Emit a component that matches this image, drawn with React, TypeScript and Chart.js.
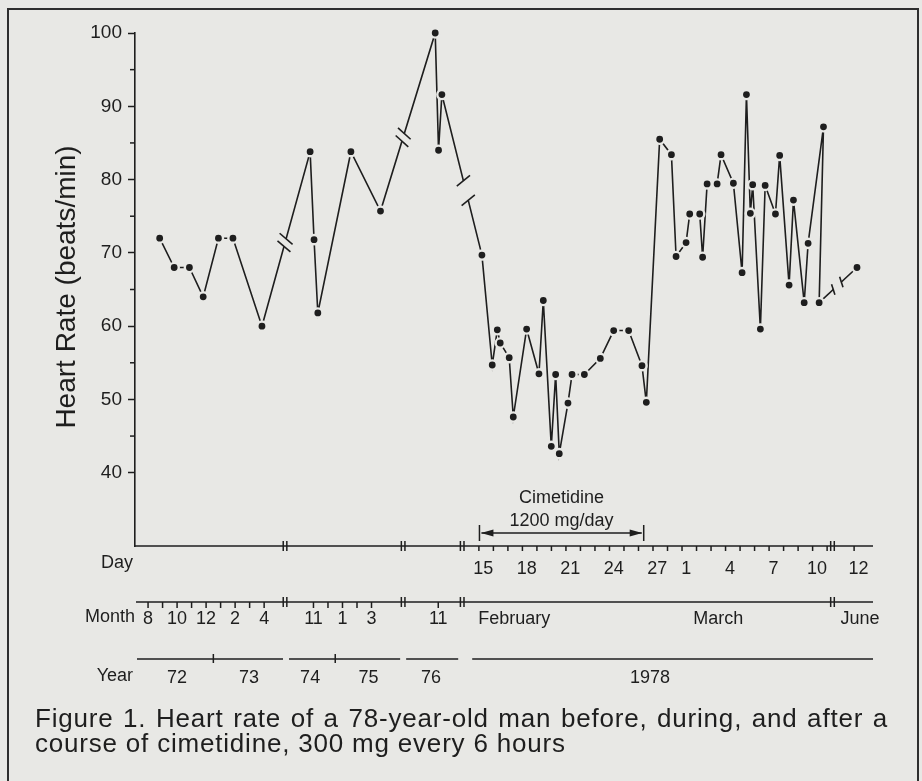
import React, { useEffect, useRef } from 'react';
import { Chart, registerables } from 'chart.js';

Chart.register(...registerables);

// ---------------- data ----------------
// The time axis is broken into five segments. Each point's time is given in its
// segment's own unit: months (1972-73, 1974-75, 1976) or days (1978; Feb 15 = 15, Mar 1 = 29).
const segmentShift = [-7.1, 1.3, 9.9, 9.0, 37.86]; // axis units = local time + shift
const axisBreaks = [10.34, 18.48, 22.55, 48.07]; // axis units where the time axis is broken

const month7273 = [8.8, 9.8, 10.85, 11.8, 12.85, 13.85, 15.85];
const rate7273 = [72, 68, 68, 64, 72, 72, 60];

const month7475 = [10.77, 11.04, 11.3, 13.58, 15.62];
const rate7475 = [83.8, 71.8, 61.8, 83.8, 75.7];

const month76 = [10.79, 11.02, 11.25];
const rate76 = [100, 84, 91.6];

const day78 = [
  14.91, 15.62, 15.97, 16.17, 16.79, 17.07, 17.99, 18.84, 19.14, 19.69,
  19.99, 20.24, 20.84, 21.12, 21.97, 23.07, 23.99, 25.02, 25.94, 26.24,
  27.16, 27.97, 28.29, 28.98, 29.23, 29.92, 30.12, 30.43, 31.12, 31.39,
  32.24, 32.84, 33.14, 33.41, 33.57, 34.1, 34.43, 35.14, 35.43, 36.08,
  36.38, 37.12, 37.39, 38.45, 38.15,
];
const rate78 = [
  69.7, 54.7, 59.5, 57.7, 55.7, 47.6, 59.6, 53.5, 63.5, 43.6,
  53.4, 42.6, 49.5, 53.4, 53.4, 55.6, 59.4, 59.4, 54.6, 49.6,
  85.5, 83.4, 69.5, 71.4, 75.3, 75.3, 69.4, 79.4, 79.4, 83.4,
  79.5, 67.3, 91.6, 75.4, 79.3, 59.6, 79.2, 75.3, 83.3, 65.6,
  77.2, 63.2, 71.3, 87.2, 63.2,
];

const dayJune78 = [11.9];
const rateJune78 = [68];

// axis texts
const yTickValues = [40, 45, 50, 55, 60, 65, 70, 75, 80, 85, 90, 95, 100];
const dayTicks78 = [15, 16, 17, 18, 19, 20, 21, 22, 23, 24, 25, 26, 27, 28, 29, 30, 31, 32, 33, 34, 35, 36, 37, 38, 39];
const dayLabelsFeb = [15, 18, 21, 24, 27];
const dayLabelsMar = [1, 4, 7, 10];
const dayLabelsJune = [12];
const monthTicks = [[8, 9, 10, 11, 12, 13, 14, 15, 16], [11, 12, 13, 14, 15], [11]];
const monthLabels = [[8, 10, 12, 14, 16], [11, 13, 15], [11]];
const monthNames78 = ['February', 'March', 'June'];
const monthNameAt = [[3, 14.66], [3, 31.2], [4, 12.1]];
const yearNames = ['72', '73', '74', '75', '76', '1978'];
const yearNameAt = [[0, 10], [0, 14.95], [1, 10.77], [1, 14.8], [2, 10.5], [3, 26.5]];
const yearBoundaryAt = [[0, 12.5], [1, 12.5]];
const cimetidineDays = [14.74, 26.06];
const cimetidineText = ['Cimetidine', '1200 mg/day'];
const yTitle = 'Heart Rate (beats/min)';
const captionLines = [
  'Figure 1. Heart rate of a 78-year-old man before, during, and after a',
  'course of cimetidine, 300 mg every 6 hours',
];

// ---------------- styling ----------------
const BG = '#e8e8e5';
const INK = '#1e1e1e';
const FONT = '"Liberation Sans", Arial, Helvetica, sans-serif';

const axisU = (seg: number, t: number) => t + segmentShift[seg];

const series: [number[], number[]][] = [
  [month7273, rate7273],
  [month7475, rate7475],
  [month76, rate76],
  [day78, rate78],
  [dayJune78, rateJune78],
];
const points = series.flatMap(([t, r], seg) => t.map((tt, i) => ({ x: axisU(seg, tt), y: r[i] })));

// decorative break marks on the data line
const lineBreakU = [10.34, 18.48, 22.8, 48.4];
const lineBreakGap = [8, 8, 20, 11];
const lineBreakLen = [17, 17, 17, 11];

const decorPlugin = {
  id: 'decor',
  afterDatasetsDraw(chart: any) {
    const { ctx, scales } = chart;
    const x = scales.x;
    const meta = chart.getDatasetMeta(0);
    const els = meta.data as any[];
    ctx.save();
    lineBreakU.forEach((u, bi) => {
      const px = x.getPixelForValue(u);
      for (let i = 0; i < els.length - 1; i++) {
        const a = els[i], b = els[i + 1];
        if ((a.x - px) * (b.x - px) <= 0 && a.x !== b.x) {
          const t = (px - a.x) / (b.x - a.x);
          const cx = px, cy = a.y + t * (b.y - a.y);
          const dx = b.x - a.x, dy = b.y - a.y;
          const L = Math.hypot(dx, dy);
          const vx = dx / L, vy = dy / L;
          const g = lineBreakGap[bi] / 2;
          ctx.strokeStyle = BG;
          ctx.lineWidth = 4;
          ctx.beginPath();
          ctx.moveTo(cx - vx * g, cy - vy * g);
          ctx.lineTo(cx + vx * g, cy + vy * g);
          ctx.stroke();
          const ang = Math.atan2(dy, dx) + (dy < 0 ? 1 : -1) * (115 * Math.PI / 180);
          const sx = Math.cos(ang), sy = Math.sin(ang);
          const h = lineBreakLen[bi] / 2;
          ctx.strokeStyle = INK;
          ctx.lineWidth = 1.6;
          [-1, 1].forEach((s) => {
            const mx = cx + s * vx * g, my = cy + s * vy * g;
            ctx.beginPath();
            ctx.moveTo(mx - sx * h, my - sy * h);
            ctx.lineTo(mx + sx * h, my + sy * h);
            ctx.stroke();
          });
          break;
        }
      }
    });
    ctx.restore();
  },
  afterDraw(chart: any) {
    const { ctx, chartArea: ca, scales } = chart;
    const x = scales.x, y = scales.y;
    const X = (seg: number, t: number) => x.getPixelForValue(axisU(seg, t));
    const XU = (u: number) => x.getPixelForValue(u);
    const right = ca.right - 2;
    ctx.save();
    ctx.strokeStyle = INK;
    ctx.fillStyle = INK;
    ctx.lineWidth = 1.5;
    const line = (x1: number, y1: number, x2: number, y2: number) => {
      ctx.beginPath();
      ctx.moveTo(x1, y1);
      ctx.lineTo(x2, y2);
      ctx.stroke();
    };
    const text = (s: string, tx: number, ty: number, align: CanvasTextAlign = 'center', size = 18) => {
      ctx.font = `${size}px ${FONT}`;
      ctx.textAlign = align;
      ctx.textBaseline = 'middle';
      ctx.fillText(s, tx, ty);
    };
    const breakBars = (yy: number) => {
      axisBreaks.forEach((u) => {
        const bx = XU(u);
        line(bx - 1.8, yy - 5, bx - 1.8, yy + 5);
        line(bx + 1.8, yy - 5, bx + 1.8, yy + 5);
      });
    };

    // minor y ticks
    yTickValues.filter((v) => v % 10 !== 0).forEach((v) => {
      const py = y.getPixelForValue(v);
      line(ca.left - 5, py, ca.left, py);
    });

    // y title
    ctx.save();
    ctx.translate(67, 287);
    ctx.rotate(-Math.PI / 2);
    text(yTitle, 0, 0, 'center', 28);
    ctx.restore();

    // Day axis
    const yDay = ca.bottom;
    line(ca.left, yDay, right, yDay);
    breakBars(yDay);
    dayTicks78.forEach((d) => { const px = X(3, d - 0.3); line(px, yDay, px, yDay + 5); });
    dayLabelsJune.forEach((d) => { const px = X(4, d - 0.3); line(px, yDay, px, yDay + 5); });
    dayLabelsFeb.forEach((d) => text(String(d), X(3, d), 569));
    dayLabelsMar.forEach((d) => text(String(d), X(3, d + 28), 569));
    dayLabelsJune.forEach((d) => text(String(d), X(4, d), 569));
    text('Day', 133, 563, 'right');

    // Month axis
    const yMonth = 602;
    line(ca.left + 1, yMonth, right, yMonth);
    breakBars(yMonth);
    monthTicks.forEach((ticks, seg) => ticks.forEach((m) => {
      const px = X(seg, m);
      line(px, yMonth, px, yMonth + 6);
    }));
    monthLabels.forEach((labels, seg) => labels.forEach((m) => {
      text(String(((m - 1) % 12) + 1), X(seg, m), 619);
    }));
    monthNames78.forEach((nm, i) => {
      const [seg, t] = monthNameAt[i];
      text(nm, X(seg, t), 619, i === 0 ? 'left' : 'center');
    });
    text('Month', 135, 617, 'right');

    // Year axis
    const yYear = 659;
    const spans = [
      [ca.left + 2, XU(axisBreaks[0]) - 2],
      [XU(axisBreaks[0]) + 4, XU(axisBreaks[1]) - 3],
      [XU(axisBreaks[1]) + 3, XU(axisBreaks[2]) - 4],
      [XU(axisBreaks[2]) + 10, right],
    ];
    spans.forEach(([a, b]) => line(a, yYear, b, yYear));
    yearBoundaryAt.forEach(([seg, m]) => { const px = X(seg, m); line(px, yYear - 5, px, yYear + 4); });
    yearNames.forEach((nm, i) => { const [seg, t] = yearNameAt[i]; text(nm, X(seg, t), 678); });
    text('Year', 133, 676, 'right');

    // Cimetidine annotation
    const c1 = X(3, cimetidineDays[0]), c2 = X(3, cimetidineDays[1]);
    const ya = 533;
    line(c1, ya - 8, c1, ya + 8);
    line(c2, ya - 8, c2, ya + 8);
    line(c1 + 2, ya, c2 - 2, ya);
    ctx.beginPath();
    ctx.moveTo(c1 + 1.5, ya); ctx.lineTo(c1 + 14, ya - 3.5); ctx.lineTo(c1 + 14, ya + 3.5); ctx.closePath(); ctx.fill();
    ctx.beginPath();
    ctx.moveTo(c2 - 1.5, ya); ctx.lineTo(c2 - 14, ya - 3.5); ctx.lineTo(c2 - 14, ya + 3.5); ctx.closePath(); ctx.fill();
    const cm = (c1 + c2) / 2;
    text(cimetidineText[0], cm, 498);
    text(cimetidineText[1], cm, 521);
    ctx.restore();
  },
};

export default function App() {
  const ref = useRef<HTMLCanvasElement>(null);
  useEffect(() => {
    const chart = new Chart(ref.current as HTMLCanvasElement, {
      type: 'line',
      data: {
        datasets: [
          {
            data: points,
            borderColor: INK,
            borderWidth: 1.6,
            tension: 0,
            pointRadius: 4.6,
            pointBorderWidth: 2.4,
            pointBackgroundColor: INK,
            pointBorderColor: BG,
            pointHoverRadius: 4.6,
            clip: false as any,
          },
        ],
      },
      options: {
        responsive: false,
        animation: false,
        events: [],
        layout: { padding: { top: 33, bottom: 235, left: 0, right: 47 } },
        plugins: { legend: { display: false }, tooltip: { enabled: false }, title: { display: false } },
        scales: {
          x: { type: 'linear', display: false, min: 0, max: 51 },
          y: {
            type: 'linear',
            min: 30,
            max: 100,
            afterBuildTicks: (scale: any) => {
              scale.ticks = yTickValues.map((v) => ({ value: v }));
            },
            afterFit: (scale: any) => { scale.width = 135; },
            ticks: {
              stepSize: 5,
              autoSkip: false,
              padding: 6,
              color: INK,
              font: { family: FONT, size: 19 },
              callback: (v: any) => (Number(v) % 10 === 0 ? String(v) : ''),
            },
            grid: {
              display: true,
              drawOnChartArea: false,
              drawTicks: true,
              tickLength: 7,
              tickWidth: 1.5,
              tickColor: (c: any) => (c.tick && c.tick.value % 10 === 0 ? INK : 'rgba(0,0,0,0)'),
            },
            border: { display: true, color: INK, width: 1.6 },
          },
        },
      },
      plugins: [decorPlugin],
    });
    return () => chart.destroy();
  }, []);

  const captionStyle: React.CSSProperties = {
    position: 'absolute', left: 35, fontFamily: FONT, fontSize: 26, lineHeight: '26px',
    letterSpacing: '0.8px', color: INK, whiteSpace: 'nowrap',
  };

  return (
    <div style={{ position: 'fixed', left: 0, top: 0, width: 922, height: 781, background: BG, overflow: 'hidden' }}>
      <div
        style={{
          position: 'absolute', left: 7, top: 8, width: 912, height: 800, boxSizing: 'border-box',
          borderTop: '2px solid #2e2e2e', borderLeft: '2px solid #2e2e2e', borderRight: '2px solid #2e2e2e',
        }}
      />
      <canvas ref={ref} width={922} height={781} style={{ position: 'absolute', left: 0, top: 0, width: 922, height: 781 }} />
      <div style={{ ...captionStyle, top: 705, width: 853, textAlign: 'justify', textAlignLast: 'justify' }}>
        {captionLines[0]}
      </div>
      <div style={{ ...captionStyle, top: 730 }}>{captionLines[1]}</div>
    </div>
  );
}
